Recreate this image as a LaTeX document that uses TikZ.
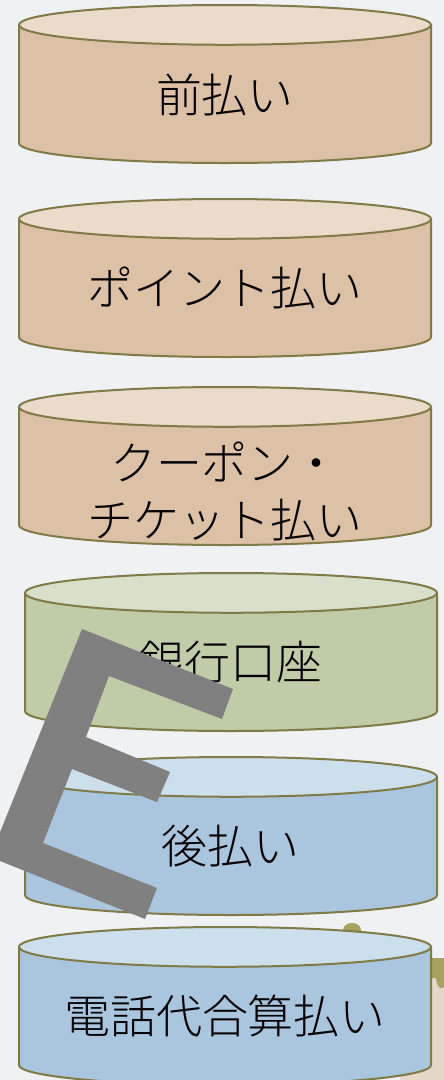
\documentclass[tikz,border=0pt]{standalone}
\usepackage{fontspec}
\newfontfamily\jpfont{Noto Sans CJK JP Light}
\definecolor{bgcol}{RGB}{239, 241, 243}
\definecolor{rimol}{RGB}{128, 122, 70}
\definecolor{tanbody}{RGB}{221, 193, 166}
\definecolor{tantop}{RGB}{234, 219, 203}
\definecolor{sagebody}{RGB}{192, 203, 168}
\definecolor{sagetop}{RGB}{216, 224, 204}
\definecolor{skybody}{RGB}{169, 198, 222}
\definecolor{skytop}{RGB}{204, 223, 236}
\definecolor{egray}{RGB}{128, 128, 128}
\definecolor{blobol}{RGB}{168, 162, 96}
\definecolor{blobbeige}{RGB}{229, 216, 200}
\usetikzlibrary{shapes.geometric}

\begin{document}
\begin{tikzpicture}[x=1pt, y=-1pt,
  cyl/.style={cylinder, shape border rotate=90, draw=rimol, line width=2pt, anchor=shape center,
    cylinder uses custom fill, minimum width=412pt, minimum height=158pt, aspect=0.097,
    inner sep=0pt, text width=410pt, align=center, font=\jpfont\fontsize{46}{57}\selectfont},
  prepaid/.style={cyl, cylinder body fill=tanbody, cylinder end fill=tantop},
  bankcyl/.style={cyl, cylinder body fill=sagebody, cylinder end fill=sagetop},
  postpaid/.style={cyl, cylinder body fill=skybody, cylinder end fill=skytop},
]
  \clip (0, 0) rectangle (444, 1080);
  \fill[bgcol] (0, 0) rectangle (444, 1080);

  % partly hidden figure behind the last cylinder
  \fill[blobbeige] (400, 958) rectangle (444, 1080);
  \fill[blobol] (400, 958) -- (444, 958) -- (444, 987) .. controls (440, 990) and (437, 987) .. (436, 978) -- (400, 978) -- cycle;
  \fill[blobol] (352, 930) ellipse (9 and 7);

  \node[prepaid] (mae) at (225, 84) {前払い};
  \node[prepaid] (point) at (225, 278) {ポイント払い};
  \node[prepaid] (coupon) at (225, 466)
    {\raisebox{-27pt}[45pt][45pt]{\begin{tabular}{@{}c@{}}クーポン・\\チケット払い\end{tabular}}};
  \node[bankcyl] (bank) at (231, 652) {銀行口座};
  \node[postpaid] (ato) at (231, 836) {後払い};
  \node[postpaid] (denwa) at (225, 1006) {電話代合算払い};

  % the grey E laid over the stack
  \fill[egray] (82, 629) -- (233, 689) -- (222, 719) -- (109, 676) -- (86, 737) -- (170, 772) -- (157, 802)
    -- (72, 769) -- (43, 843) -- (157, 888) -- (145, 919) -- (-10, 857) -- cycle;
\end{tikzpicture}
\end{document}
